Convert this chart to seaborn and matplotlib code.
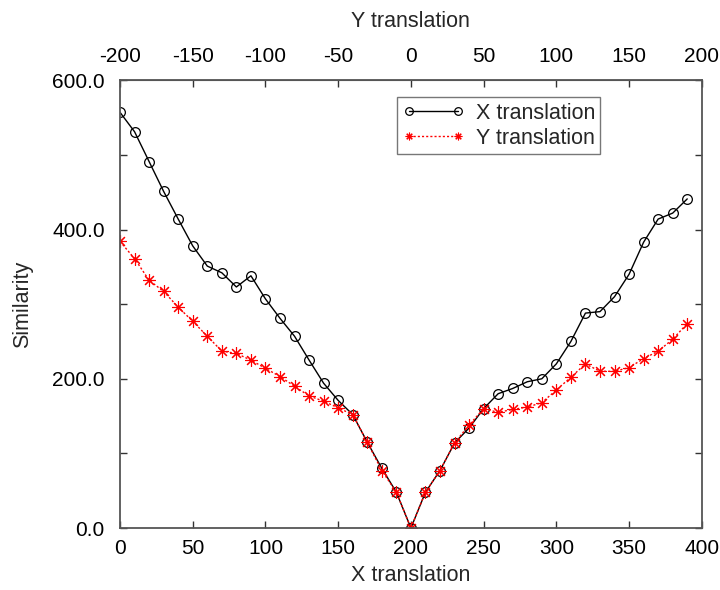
import matplotlib
matplotlib.use("Agg")
import matplotlib.pyplot as plt
import seaborn as sns
import numpy as np
import pandas as pd

shift = [0, 10, 20, 30, 40, 50, 60, 70, 80, 90, 100, 110, 120, 130, 140, 150, 160, 170, 180, 190,
         200, 210, 220, 230, 240, 250, 260, 270, 280, 290, 300, 310, 320, 330, 340, 350, 360, 370, 380, 390]
x_translation = [557, 531, 491, 451, 414, 378, 351, 342, 323, 338, 307, 281, 257, 225, 194, 171, 152, 115, 80, 48,
                 0, 48, 77, 114, 134, 160, 180, 187, 196, 200, 220, 250, 288, 290, 310, 340, 383, 414, 422, 441]
y_translation = [384, 361, 332, 317, 296, 277, 257, 237, 234, 225, 214, 203, 190, 177, 170, 161, 152, 115, 77, 48,
                 0, 48, 77, 114, 138, 160, 155, 159, 162, 168, 185, 202, 220, 210, 210, 215, 227, 237, 253, 274]

bottom_ticks = [0, 50, 100, 150, 200, 250, 300, 350, 400]
top_ticks = [-200, -150, -100, -50, 0, 50, 100, 150, 200]
y_ticks = [0, 200, 400, 600]
y_tick_labels = ["0.0", "200.0", "400.0", "600.0"]

sns.set_style("ticks")
plt.rcParams['font.family'] = ['Liberation Sans', 'DejaVu Sans']
plt.rcParams['axes.unicode_minus'] = False

fig = plt.figure(figsize=(7.2, 5.9), dpi=100)
ax = fig.add_axes([0.1667, 0.105, 0.808, 0.759])

df = pd.DataFrame({"shift": shift, "X": x_translation, "Y": y_translation})

sns.lineplot(data=df, x="shift", y="X", ax=ax, color="black", linewidth=1.0,
             marker="o", markersize=7, markerfacecolor="none", markeredgecolor="black",
             markeredgewidth=0.9, label="X translation")
sns.lineplot(data=df, x="shift", y="Y", ax=ax, color="red", linewidth=1.0, linestyle=(0, (1.5, 1.5)),
             marker=(8, 2, 0), markersize=9, markeredgecolor="red", markeredgewidth=0.8,
             label="Y translation")

ax.set_xlim(0, 400)
ax.set_ylim(0, 600)
ax.set_xticks(bottom_ticks)
ax.set_yticks(y_ticks)
ax.set_yticklabels(y_tick_labels)
ax.set_yticks([100, 300, 500], minor=True)
ax.tick_params(axis="both", which="both", direction="in", length=5, width=1, colors="#333333",
               labelcolor="black", labelsize=15, right=True, top=False)
ax.tick_params(axis="x", pad=8)
ax.tick_params(axis="y", pad=11)
ax.set_xlabel("X translation", fontsize=15.5, labelpad=5)
ax.set_ylabel("Similarity", fontsize=15.5, labelpad=14)

for s in ax.spines.values():
    s.set_color("#555555")
    s.set_linewidth(1.3)
    s.set_visible(True)

sec = ax.secondary_xaxis("top", functions=(lambda v: v - 200, lambda v: v + 200))
sec.set_xticks(top_ticks)
sec.tick_params(direction="in", length=5, width=1, colors="#333333", labelcolor="black",
                labelsize=15, pad=10)
sec.set_xlabel("Y translation", fontsize=15.5, labelpad=15)
sec.spines["top"].set_color("#555555")

leg = ax.legend(loc="upper left", bbox_to_anchor=(0.476, 0.962), fontsize=15.5, frameon=True,
                fancybox=False, edgecolor="#555555", handlelength=2.9, borderpad=0.25,
                labelspacing=0.2, handletextpad=0.5, numpoints=2, borderaxespad=0)
leg.get_frame().set_linewidth(1.0)
for h in leg.legend_handles:
    h.set_markersize(5.5)

fig.savefig("out.png", dpi=100)
